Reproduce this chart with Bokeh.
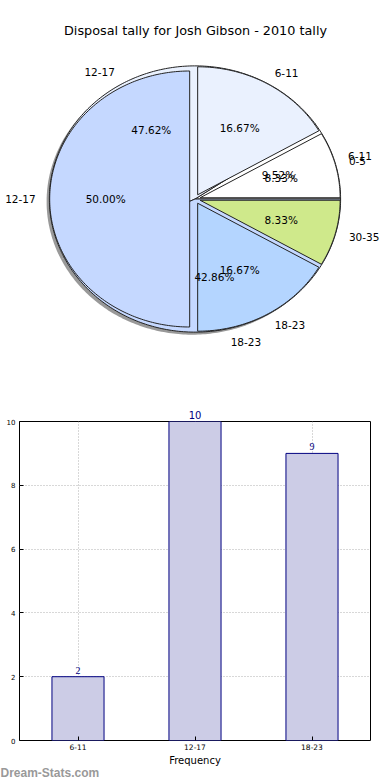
import numpy as np
from bokeh.plotting import figure
from bokeh.models import Range1d, ColumnDataSource, Label, LabelSet, FactorRange, Title
from bokeh.embed import file_html
from bokeh.resources import INLINE

# ---------------- data ----------------
title_text = "Disposal tally for Josh Gibson - 2010 tally"
pie_a_labels = ["6-11", "12-17", "18-23"]
pie_a_values = [2, 10, 9]
pie_b_labels = ["0-5", "6-11", "12-17", "18-23", "30-35"]
pie_b_values = [1, 2, 6, 2, 1]
bar_categories = ["6-11", "12-17", "18-23"]
bar_values = [2, 10, 9]
bar_y_ticks = [0, 2, 4, 6, 8, 10]
bar_y_max = 10
x_axis_label = "Frequency"
watermark = "Dream-Stats.com"

# ---------------- styles ----------------
pie_colors = ["#ffffff", "#eaf1fe", "#c5d8ff", "#b4d5ff", "#cfe98b"]
FONT = "DejaVu Sans"
W = 390
H1 = 400
PX_X = 140.0
PX_Y = 128.0
CX, CY = 194.5, 198.5

p1 = figure(frame_width=W, frame_height=H1, output_backend="svg", toolbar_location=None,
            title=None,
            x_range=Range1d(-CX / PX_X, (W - CX) / PX_X),
            y_range=Range1d(-(H1 - CY) / PX_Y, CY / PX_Y),
            x_axis_type=None, y_axis_type=None,
            min_border_left=0, min_border_right=0, min_border_top=0, min_border_bottom=0)
p1.grid.visible = False
p1.outline_line_color = None


def pie_geometry(values, labels, radius, explode, colors):
    total = float(sum(values))
    xs, ys = [], []
    lab = dict(x=[], y=[], text=[], align=[])
    pct = dict(x=[], y=[], text=[])
    a = 0.0
    for i, v in enumerate(values):
        span = 2 * np.pi * v / total
        mid = a + span / 2
        ox, oy = explode * np.cos(mid), explode * np.sin(mid)
        t = np.linspace(a, a + span, max(int(span * 60), 4))
        xs.append(list(np.concatenate([[ox], ox + radius * np.cos(t), [ox]])))
        ys.append(list(np.concatenate([[oy], oy + radius * np.sin(t), [oy]])))
        lab["x"].append(ox + 1.1 * radius * np.cos(mid))
        lab["y"].append(oy + 1.1 * radius * np.sin(mid))
        lab["text"].append(labels[i])
        lab["align"].append("left" if np.cos(mid) > 0 else "right")
        pct["x"].append(ox + 0.6 * radius * np.cos(mid))
        pct["y"].append(oy + 0.6 * radius * np.sin(mid))
        pct["text"].append("%.2f%%" % (100.0 * v / total))
        a += span
    src = ColumnDataSource(dict(xs=xs, ys=ys, color=colors[:len(values)]))
    return src, ColumnDataSource(lab), ColumnDataSource(pct)


# Pie A (with shadow, behind)
srcA, labA, pctA = pie_geometry(pie_a_values, pie_a_labels, 1.04, 0.0, pie_colors)
shadow = ColumnDataSource(dict(xs=[[x - 0.02 for x in xx] for xx in srcA.data["xs"]],
                               ys=[[y - 0.02 for y in yy] for yy in srcA.data["ys"]]))
p1.patches("xs", "ys", source=shadow, fill_color="#555555", fill_alpha=0.6, line_color=None)
p1.patches("xs", "ys", source=srcA, fill_color="color", line_color="#222222", line_width=1)

# Pie B (exploded, on top)
srcB, labB, pctB = pie_geometry(pie_b_values, pie_b_labels, 1.0, 0.038, pie_colors)
p1.patches("xs", "ys", source=srcB, fill_color="color", line_color="#222222", line_width=1)

for ls in (labA, labB):
    p1.text("x", "y", text="text", source=ls, text_align="align", text_baseline="middle",
            text_font_size="10.5px", text_color="#000000", text_font={"value": FONT})
for ps in (pctA, pctB):
    p1.text("x", "y", text="text", source=ps, text_align="center", text_baseline="middle",
            text_font_size="10.5px", text_color="#000000", text_font={"value": FONT})

p1.add_layout(Label(x=W / 2, y=H1 - 30, x_units="screen", y_units="screen", text=title_text,
                    text_align="center", text_baseline="middle", text_font_size="12.8px",
                    text_font=FONT, text_color="#000000"))

# ---------------- bar chart ----------------
FL, FR, FT, FB = 19, 20, 21, 40
p2 = figure(frame_width=351, frame_height=319, output_backend="svg", toolbar_location=None,
            title=None,
            x_range=FactorRange(*bar_categories, range_padding=0), y_range=Range1d(0, bar_y_max),
            min_border_left=FL, min_border_right=FR, min_border_top=FT, min_border_bottom=FB)
txt = [str(v) for v in bar_values]
bsrc = ColumnDataSource(dict(cat=bar_categories, val=bar_values, txt=txt))
p2.vbar(x="cat", top="val", width=0.445, source=bsrc, fill_color="#ccccE6", line_color="#000080",
        line_width=1)
# value labels that fit inside the plot area
inner = [i for i, v in enumerate(bar_values) if v < bar_y_max]
isrc = ColumnDataSource(dict(cat=[bar_categories[i] for i in inner],
                             val=[bar_values[i] for i in inner],
                             txt=[txt[i] for i in inner]))
p2.add_layout(LabelSet(x="cat", y="val", text="txt", source=isrc, y_offset=3, text_align="center",
                       text_baseline="bottom", text_font_size="10px", text_color="#000080",
                       text_font=FONT))
# value label of the full-height bar sits above the plot area
for i, v in enumerate(bar_values):
    if v >= bar_y_max:
        p2.add_layout(Title(text=txt[i], align="center", text_font_size="10px",
                            text_font=FONT, text_font_style="normal", text_color="#000080",
                            standoff=5), "above")

p2.outline_line_color = "#000000"
p2.outline_line_width = 1
p2.yaxis.ticker = bar_y_ticks
for ax in (p2.xaxis[0], p2.yaxis[0]):
    ax.axis_line_color = None
    ax.major_tick_in = 4
    ax.major_tick_out = 0
    ax.minor_tick_in = 0
    ax.minor_tick_out = 0
    ax.major_tick_line_color = "#000000"
    ax.major_label_text_font = FONT
    ax.major_label_text_color = "#000000"
p2.yaxis.major_label_text_font_size = "7px"
p2.yaxis.major_label_standoff = 4
p2.xaxis.major_label_text_font_size = "7.5px"
p2.xaxis.major_label_standoff = 3
p2.xaxis.axis_label = x_axis_label
p2.xaxis.axis_label_text_font = FONT
p2.xaxis.axis_label_text_font_style = "normal"
p2.xaxis.axis_label_text_font_size = "10px"
p2.xaxis.axis_label_standoff = 2
p2.xaxis.axis_label_text_color = "#000000"
p2.grid.grid_line_color = "#b0b0b0"
p2.grid.grid_line_dash = "1 2"
p2.grid.grid_line_width = 1
p2.add_layout(Title(text=watermark, align="left", offset=-FL, text_font_size="12px",
                    text_font_style="bold", text_font="Liberation Sans", text_color="#999999",
                    standoff=-9), "below")

open("out.html", "w").write(file_html([p1, p2], INLINE))
